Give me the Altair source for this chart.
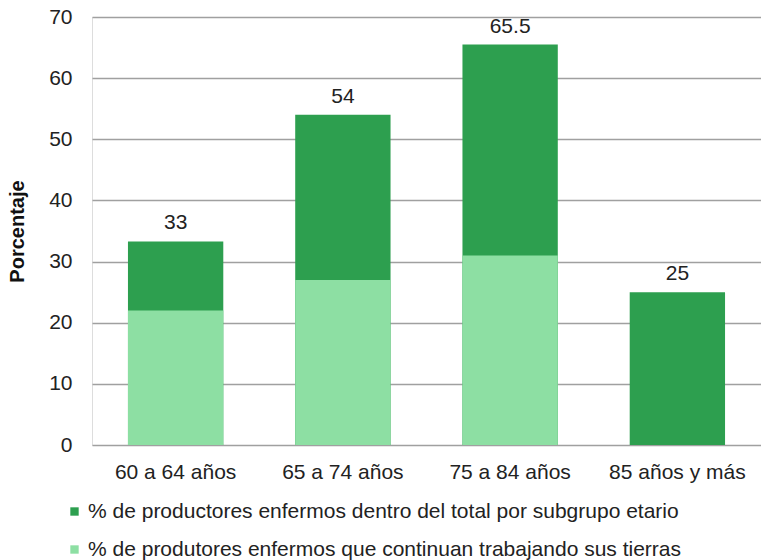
import altair as alt
import pandas as pd

categories = ["60 a 64 años", "65 a 74 años", "75 a 84 años", "85 años y más"]
total_values = [33.3, 54, 65.5, 25]
total_labels = ["33", "54", "65.5", "25"]
working_values = [22, 27, 31, 0]
series_names = [
    "% de productores enfermos dentro del total por subgrupo etario",
    "% de produtores enfermos que continuan trabajando sus tierras",
]
series_colors = ["#2d9f4f", "#8ddfa3"]

rows = []
for c, v in zip(categories, total_values):
    rows.append({"cat": c, "val": v, "serie": series_names[0]})
for c, v in zip(categories, working_values):
    rows.append({"cat": c, "val": v, "serie": series_names[1]})
df = pd.DataFrame(rows)
lab = pd.DataFrame({"cat": categories, "val": total_values, "txt": total_labels})

FONT = "Liberation Sans"
FS = 21

x = alt.X("cat:N", sort=categories, title=None,
          scale=alt.Scale(paddingInner=0.43, paddingOuter=0.215),
          axis=alt.Axis(labelAngle=0, labelFontSize=FS, labelColor="#222",
                        labelPadding=16, domain=False, ticks=False, grid=False,
                        labelFont=FONT))

bars = alt.Chart(df).mark_bar().encode(
    x=x,
    y=alt.Y("val:Q", stack=None, title="Porcentaje",
            scale=alt.Scale(domain=[0, 70], nice=False),
            axis=alt.Axis(values=[0, 10, 20, 30, 40, 50, 60, 70], domain=False,
                          ticks=False, gridColor="#a0a0a0", gridWidth=1.3,
                          labelFontSize=FS, labelColor="#222", labelPadding=20,
                          labelFont=FONT, titleFont=FONT, titleFontSize=20,
                          titleFontWeight="bold", titleColor="#111",
                          titlePadding=21)),
    color=alt.Color("serie:N", sort=series_names,
                    scale=alt.Scale(domain=series_names, range=series_colors),
                    legend=alt.Legend(title=None, orient="none", legendX=-28,
                                      legendY=484, direction="vertical",
                                      symbolType="square", symbolSize=70,
                                      symbolStrokeWidth=0, labelFontSize=FS,
                                      labelColor="#222", labelFont=FONT,
                                      rowPadding=16, symbolOffset=0,
                                      labelOffset=3, labelLimit=800)),
    order=alt.Order("serie:N", sort="ascending"),
)

text = alt.Chart(lab).mark_text(baseline="bottom", dy=-8, fontSize=FS,
                                color="#222", font=FONT).encode(
    x=alt.X("cat:N", sort=categories),
    y=alt.Y("val:Q"),
    text="txt:N",
)

chart = alt.layer(bars, text).properties(
    width=669, height=428,
    padding={"left": 84, "top": 9, "right": 0, "bottom": 115},
    autosize=alt.AutoSizeParams(type="none"),
).configure_view(stroke=None).configure(font=FONT, background="white")

chart.save("out.html", embed_options={"renderer": "svg", "actions": False})
